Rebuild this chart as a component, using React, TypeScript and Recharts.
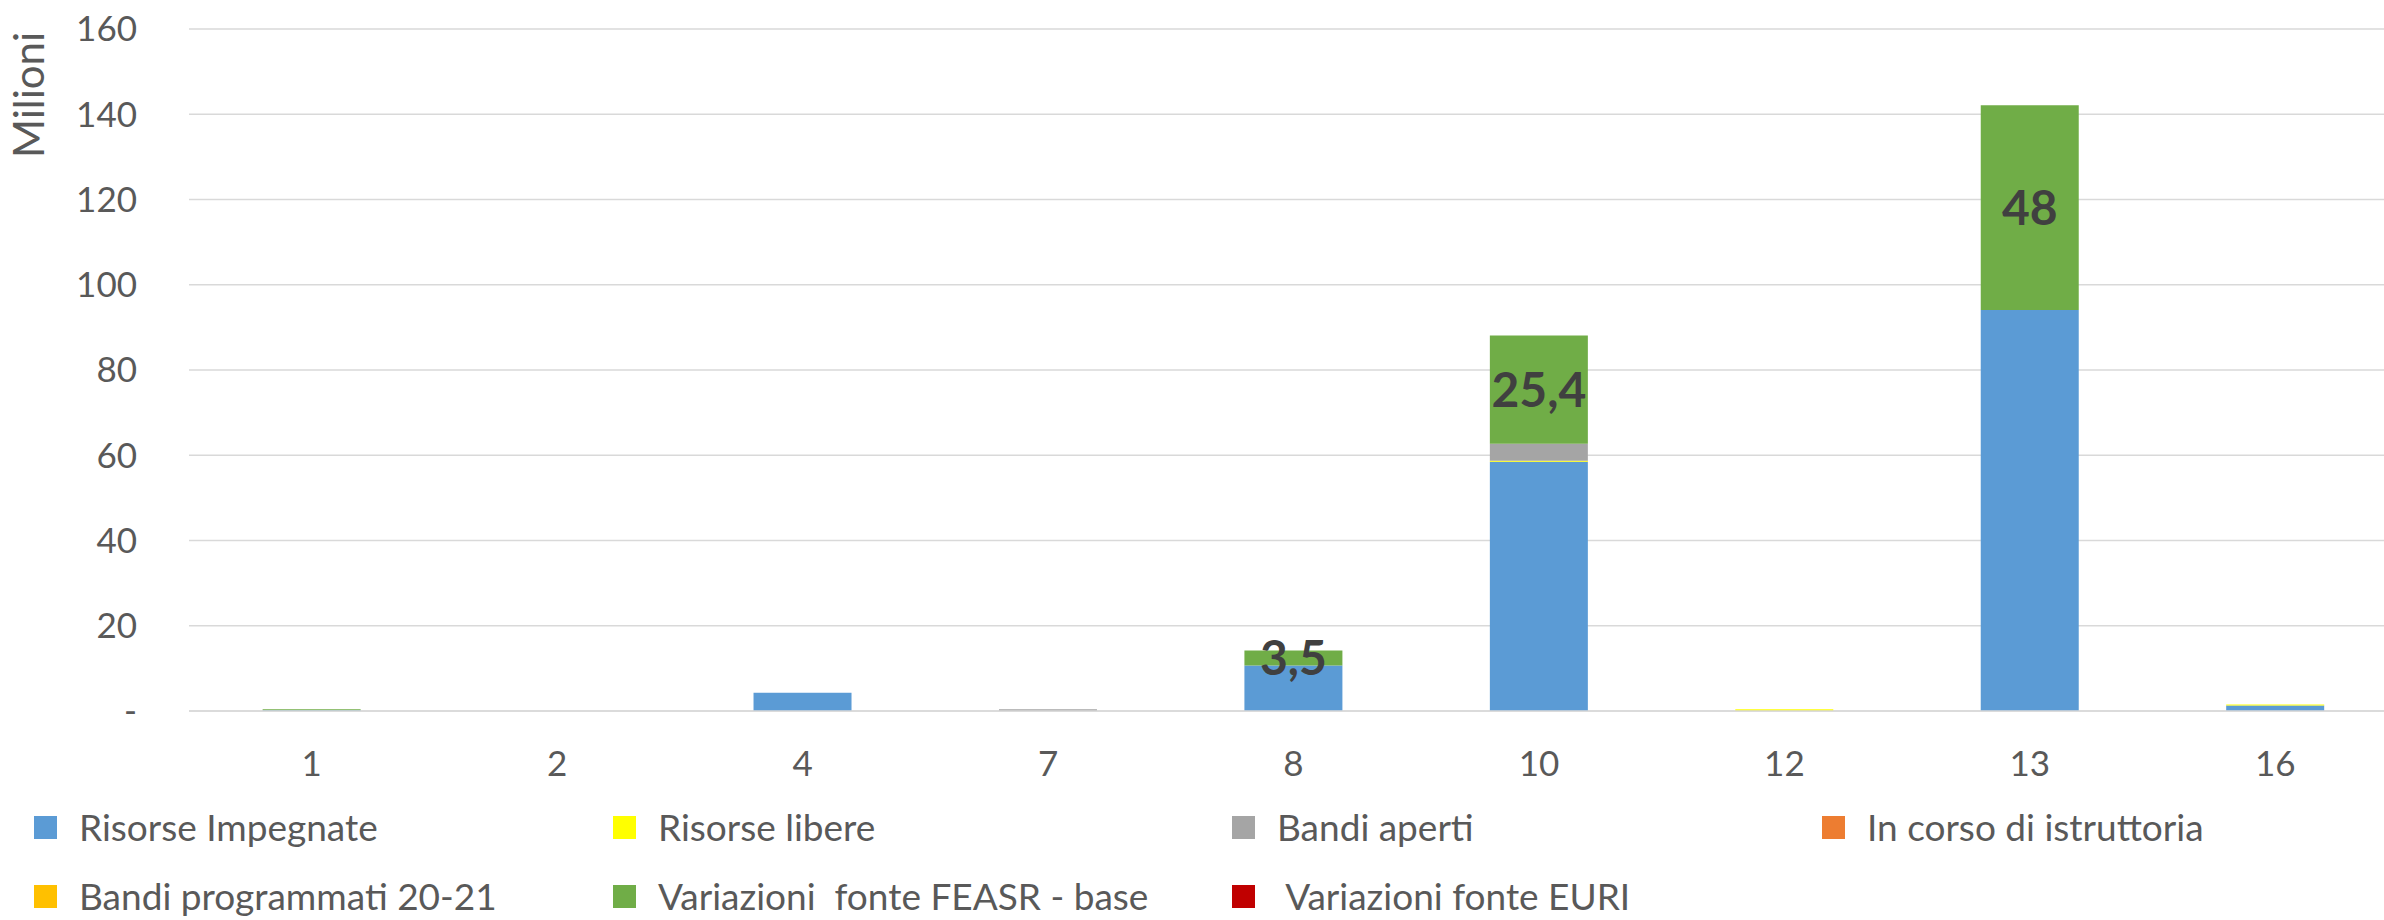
import React from 'react';
import { BarChart, Bar, XAxis, YAxis, CartesianGrid, Legend, LabelList } from 'recharts';

const categories = ['1', '2', '4', '7', '8', '10', '12', '13', '16'];

// values in millions
const risorseImpegnate = [0.2, 0, 4.3, 0, 10.7, 58.5, 0, 94.1, 1.3];
const risorseLibere = [0, 0, 0, 0, 0, 0.2, 0.4, 0, 0.2];
const bandiAperti = [0, 0, 0, 0.4, 0, 4.0, 0, 0, 0];
const inCorsoIstruttoria = [0, 0, 0, 0, 0, 0, 0, 0, 0];
const bandiProgrammati = [0, 0, 0, 0, 0, 0, 0, 0, 0];
const variazioniFeasr = [0.2, 0, 0, 0, 3.5, 25.4, 0, 48, 0];
const variazioniEuri = [0, 0, 0, 0, 0, 0, 0, 0, 0];

const yTicks = [0, 20, 40, 60, 80, 100, 120, 140, 160];

const SERIES = [
  { key: 'impegnate', name: 'Risorse Impegnate', color: '#5B9BD5', values: risorseImpegnate },
  { key: 'libere', name: 'Risorse libere', color: '#FFFF00', values: risorseLibere },
  { key: 'aperti', name: 'Bandi aperti', color: '#A5A5A5', values: bandiAperti },
  { key: 'istruttoria', name: 'In corso di istruttoria', color: '#ED7D31', values: inCorsoIstruttoria },
  { key: 'programmati', name: 'Bandi programmati 20-21', color: '#FFC000', values: bandiProgrammati },
  { key: 'feasr', name: 'Variazioni  fonte FEASR - base', color: '#70AD47', values: variazioniFeasr },
  { key: 'euri', name: ' Variazioni fonte EURI', color: '#C00000', values: variazioniEuri },
];

const data = categories.map((cat, i) => {
  const row: Record<string, string | number> = { cat };
  SERIES.forEach((s) => {
    row[s.key] = s.values[i];
  });
  return row;
});

const FONT = 'Lato, "Noto Sans", sans-serif';
const TEXT = '#595959';
const LEGEND_COLS = [34, 613, 1232, 1822];

const formatLabel = (v: any) => (typeof v === 'number' && v >= 1 ? String(v).replace('.', ',') : '');

// legend in the same order as the series, four per row
const renderLegend = () => (
  <div style={{ position: 'relative', height: 150, width: 2384, fontFamily: FONT }}>
    {SERIES.map((s, i) => (
      <div
        key={`leg-${s.key}`}
        style={{
          position: 'absolute',
          left: LEGEND_COLS[i % 4],
          top: 37 + Math.floor(i / 4) * 69,
          height: 40,
          lineHeight: '40px',
          display: 'flex',
          alignItems: 'center',
          whiteSpace: 'pre',
          color: TEXT,
          fontSize: 37,
        }}
      >
        <span style={{ display: 'inline-block', width: 23, height: 23, background: s.color, marginRight: 22 }} />
        <span>{s.name}</span>
      </div>
    ))}
  </div>
);

const MilioniLabel = () => (
  <text
    x={44}
    y={95}
    transform="rotate(-90 44 95)"
    textAnchor="middle"
    fill={TEXT}
    fontSize={42}
    fontFamily={FONT}
  >
    Milioni
  </text>
);

const App: React.FC = () => {
  return (
    <div style={{ width: 2384, height: 920, overflow: 'hidden', background: '#fff' }}>
      <style>{'body{margin:0}'}</style>
      <BarChart
        width={2400}
        height={920}
        data={data}
        margin={{ top: 29, right: 2, bottom: 0, left: 0 }}
        barCategoryGap="30%"
      >
        <CartesianGrid vertical={false} stroke="#D9D9D9" strokeWidth={1.5} />
        <XAxis
          dataKey="cat"
          height={59}
          axisLine={{ stroke: '#D9D9D9', strokeWidth: 1.5 }}
          tickLine={false}
          tickSize={0}
          tickMargin={40}
          tick={{ fill: TEXT, fontSize: 35, fontFamily: FONT }}
        />
        <YAxis
          width={189}
          domain={[0, 160]}
          ticks={yTicks}
          axisLine={false}
          tickLine={false}
          tickSize={0}
          tickMargin={52}
          tickFormatter={(v: number) => (v === 0 ? '-' : String(v))}
          tick={{ fill: TEXT, fontSize: 35, fontFamily: FONT }}
          label={<MilioniLabel />}
        />
        <Legend verticalAlign="bottom" height={150} content={renderLegend} />
        {SERIES.map((s) => (
          <Bar key={s.key} dataKey={s.key} name={s.name} stackId="a" fill={s.color} isAnimationActive={false}>
            {s.key === 'feasr' && (
              <LabelList
                dataKey="feasr"
                position="center"
                formatter={formatLabel}
                fill="#404040"
                fontSize={48}
                fontWeight="bold"
                fontFamily={FONT}
              />
            )}
          </Bar>
        ))}
      </BarChart>
    </div>
  );
};

export default App;
